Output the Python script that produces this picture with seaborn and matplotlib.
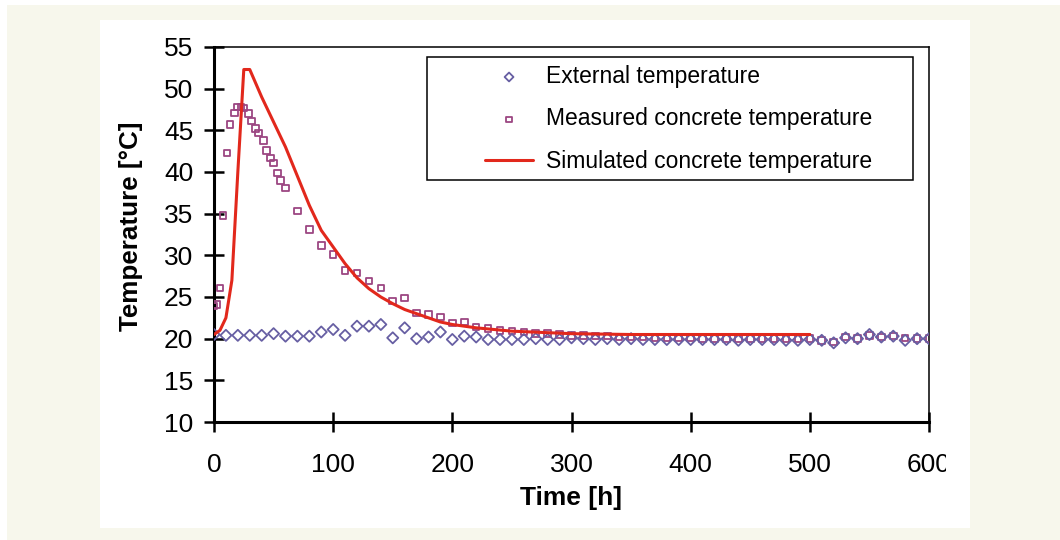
import matplotlib

matplotlib.use("Agg")
import matplotlib.pyplot as plt
import seaborn as sns
from matplotlib.patches import Rectangle

# External temperature (diamonds), every 10 h
ext_time = list(range(0, 610, 10))
ext_temp = [
    20.5, 20.4, 20.4, 20.4, 20.4, 20.6, 20.3, 20.3, 20.3, 20.8,
    21.1, 20.4, 21.5, 21.5, 21.7, 20.1, 21.3, 20.0, 20.2, 20.8,
    19.9, 20.3, 20.2, 19.9, 19.9, 19.9, 19.9, 20.0, 19.9, 19.9,
    20.1, 20.0, 19.9, 20.0, 19.9, 20.0, 19.9, 19.9, 19.9, 19.9,
    19.9, 19.9, 19.9, 19.9, 19.8, 19.9, 19.9, 19.9, 19.8, 19.8,
    19.9, 19.8, 19.5, 20.1, 20.0, 20.5, 20.2, 20.3, 19.8, 20.0,
    20.0,
]

# Measured concrete temperature (squares)
meas_time = [
    0, 2, 5, 7.5, 11, 13.5, 17, 19.5, 22.5, 25, 29, 31.5, 35, 37.5,
    41.5, 44, 47.5, 50, 53.5, 56, 60,
] + list(range(70, 610, 10))
meas_temp = [
    23.9, 24.1, 26.1, 34.8, 42.3, 45.7, 47.1, 47.8, 47.8, 47.7, 47.0,
    46.1, 45.2, 44.7, 43.8, 42.6, 41.7, 41.1, 39.9, 39.0, 38.1,
    35.3, 33.1, 31.2, 30.1, 28.2, 27.9, 26.9, 26.1, 24.5, 24.9,
    23.1, 22.9, 22.6, 21.9, 22.0, 21.4, 21.2, 21.0, 20.9, 20.8,
    20.6, 20.6, 20.5, 20.4, 20.4, 20.3, 20.3, 20.2, 20.2, 20.2,
    20.1, 20.1, 20.1, 20.1, 20.0, 20.0, 20.0, 20.0, 20.0, 20.0,
    20.0, 20.0, 20.0, 20.0, 19.8, 19.6, 20.2, 20.0, 20.4, 20.2,
    20.3, 20.1, 20.0, 20.0,
]

# Simulated concrete temperature (line)
sim_time = [0, 5, 10, 15, 20, 25, 30, 40, 50, 60, 70, 80, 90, 100, 110,
            120, 130, 140, 150, 160, 170, 180, 190, 200, 220, 250, 300,
            350, 400, 450, 500]
sim_temp = [20.5, 21.0, 22.5, 27.0, 40.0, 52.3, 52.3, 49.0, 46.0, 43.0,
            39.5, 36.0, 33.0, 31.0, 29.0, 27.3, 26.0, 25.0, 24.2, 23.5,
            23.0, 22.5, 22.0, 21.7, 21.3, 20.9, 20.6, 20.5, 20.5, 20.5,
            20.5]

x_ticks = [0, 100, 200, 300, 400, 500, 600]
y_ticks = [10, 15, 20, 25, 30, 35, 40, 45, 50, 55]

W, H = 1060, 540


def main() -> None:
    sns.set_style("ticks")
    plt.rcParams["font.family"] = ["Liberation Sans", "DejaVu Sans"]
    plt.rcParams["text.color"] = "black"
    plt.rcParams["axes.labelcolor"] = "black"

    fig = plt.figure(figsize=(W / 100, H / 100), dpi=100)
    fig.patch.set_facecolor("white")
    fig.patches.append(Rectangle((7 / W, 0), 1 - 7 / W, 1 - 5 / H,
                                 transform=fig.transFigure, facecolor="#f7f7ec",
                                 edgecolor="none", zorder=-2))
    fig.patches.append(Rectangle((100 / W, 1 - 528 / H), 870 / W, 508 / H,
                                 transform=fig.transFigure, facecolor="white",
                                 edgecolor="none", zorder=-1))

    ax = fig.add_axes([214 / W, 1 - 422 / H, 715 / W, 375 / H])
    ax.set_facecolor("white")

    sns.scatterplot(x=meas_time, y=meas_temp, marker="s", s=22, color="#9c4682",
                    facecolor="none", edgecolor="#9c4682", linewidth=1.3,
                    label="Measured concrete temperature", ax=ax, zorder=3)
    sns.scatterplot(x=ext_time, y=ext_temp, marker="D", s=32, color="#675fa3",
                    facecolor="none", edgecolor="#675fa3", linewidth=1.3,
                    label="External temperature", ax=ax, zorder=4)
    sns.lineplot(x=sim_time, y=sim_temp, color="#e2281c", linewidth=2.2,
                 label="Simulated concrete temperature", ax=ax, zorder=5)

    ax.set_xlim(0, 600)
    ax.set_ylim(10, 55)
    ax.set_xticks(x_ticks)
    ax.set_yticks(y_ticks)
    ax.set_xlabel("Time [h]", fontsize=19, fontweight="bold", labelpad=7)
    ax.set_ylabel("Temperature [°C]", fontsize=18.7, fontweight="bold")
    ax.yaxis.set_label_coords(-0.099, 0.523)

    for side in ["left", "bottom"]:
        ax.spines[side].set_linewidth(2.2)
    for side in ["top", "right"]:
        ax.spines[side].set_linewidth(1.1)
        ax.spines[side].set_visible(True)
    for s in ax.spines.values():
        s.set_color("black")
    ax.tick_params(axis="both", direction="inout", length=14, width=1.8,
                   labelsize=19, colors="black")
    ax.tick_params(axis="x", pad=15)
    ax.tick_params(axis="y", pad=8)

    # the last x tick label is cut off by the panel edge in the original
    fig.add_artist(Rectangle((946 / W, 1 - 485 / H), 24 / W, 45 / H,
                             transform=fig.transFigure, facecolor="white",
                             edgecolor="none", zorder=10))

    # legend frame
    ax.add_patch(Rectangle((0.298, 0.645), 0.68, 0.328, transform=ax.transAxes,
                           facecolor="white", edgecolor="black", linewidth=1.1,
                           zorder=6))
    handles, labels = ax.get_legend_handles_labels()
    order = [1, 0, 2]
    leg = ax.legend([handles[i] for i in order], [labels[i] for i in order],
                    loc="upper left", bbox_to_anchor=(0.379, 0.952),
                    frameon=False, fontsize=16.5, handlelength=2.1,
                    handletextpad=0.55, labelspacing=0.85, borderpad=0,
                    borderaxespad=0, markerscale=0.8)
    leg.set_zorder(7)

    fig.savefig("out.png", dpi=100, facecolor=fig.get_facecolor())
    plt.close(fig)


if __name__ == "__main__":
    main()
